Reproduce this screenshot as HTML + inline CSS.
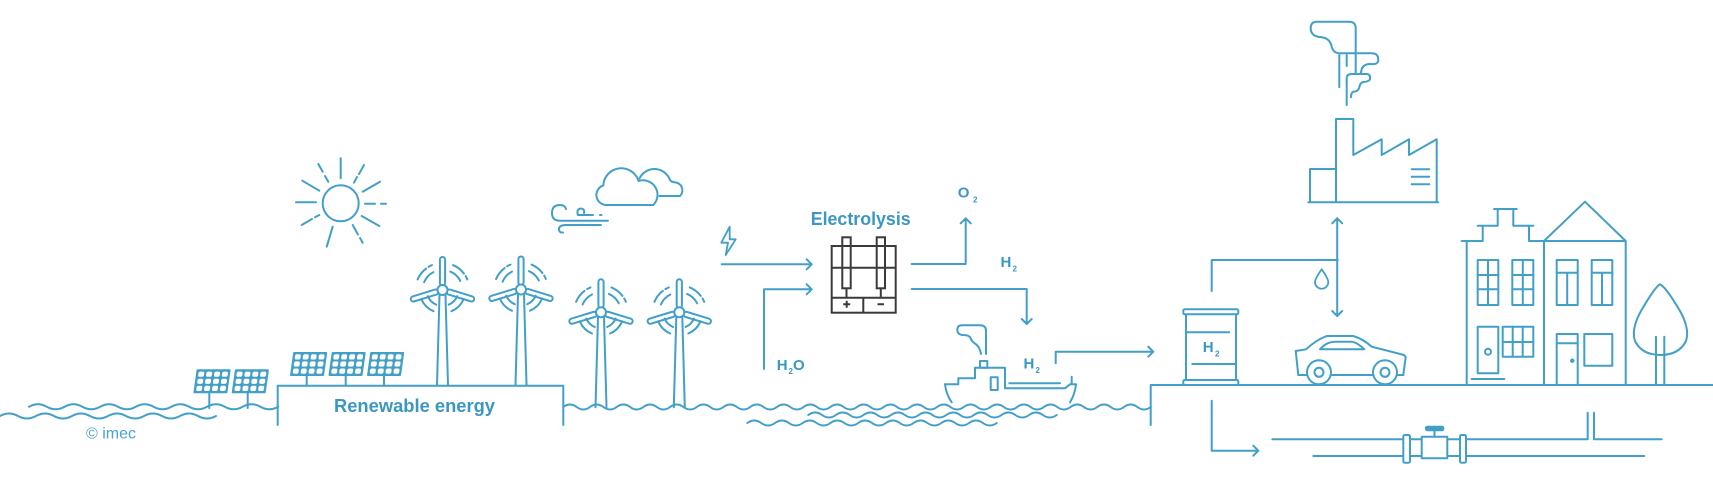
<!DOCTYPE html>
<html><head><meta charset="utf-8"><style>
html,body{margin:0;padding:0;background:#fff;}
svg{display:block;}
</style></head><body>
<svg width="1713" height="493" viewBox="0 0 1713 493" xmlns="http://www.w3.org/2000/svg">
<defs>
<g id="turb" fill="none" stroke="#429fc8" stroke-width="2" stroke-linecap="round">
  <path d="M-3,5 L-5.5,95 M3,5 L5.5,95" />
  <rect x="-2.6" y="-33" width="5.2" height="28.5" rx="2.6" fill="#fff"/>
  <rect x="-2.6" y="-33" width="5.2" height="28.5" rx="2.6" fill="#fff" transform="rotate(-107)"/>
  <rect x="-2.6" y="-33" width="5.2" height="28.5" rx="2.6" fill="#fff" transform="rotate(107)"/>
  <circle cx="0" cy="0" r="5" fill="#fff"/>
  <path d="M-18.4,-7.8 A20,20 0 0 1 -7.8,-18.4 M-24.9,-10.5 A27,27 0 0 1 -10.5,-24.9" stroke-dasharray="14 3"/>
  <path d="M7.8,-18.4 A20,20 0 0 1 18.4,-7.8 M10.5,-24.9 A27,27 0 0 1 24.9,-10.5" stroke-dasharray="14 3"/>
  <path d="M-6.2,14.7 A16,16 0 0 1 -14.7,6.2 M-9,21.2 A23,23 0 0 1 -21.2,9"/>
  <path d="M14.7,6.2 A16,16 0 0 1 6.2,14.7 M21.2,9 A23,23 0 0 1 9,21.2"/>
</g>
<g id="panel">
  <g transform="skewX(-8)">
    <rect x="0" y="0" width="34" height="24" rx="1" fill="#429fc8"/>
    <g fill="#fff">
      <rect x="2.3" y="2.3" width="5.8" height="5.2" rx="1.8"/><rect x="10.2" y="2.3" width="5.8" height="5.2" rx="1.8"/><rect x="18.1" y="2.3" width="5.8" height="5.2" rx="1.8"/><rect x="26" y="2.3" width="5.8" height="5.2" rx="1.8"/>
      <rect x="2.3" y="9.4" width="5.8" height="5.2" rx="1.8"/><rect x="10.2" y="9.4" width="5.8" height="5.2" rx="1.8"/><rect x="18.1" y="9.4" width="5.8" height="5.2" rx="1.8"/><rect x="26" y="9.4" width="5.8" height="5.2" rx="1.8"/>
      <rect x="2.3" y="16.5" width="5.8" height="5.2" rx="1.8"/><rect x="10.2" y="16.5" width="5.8" height="5.2" rx="1.8"/><rect x="18.1" y="16.5" width="5.8" height="5.2" rx="1.8"/><rect x="26" y="16.5" width="5.8" height="5.2" rx="1.8"/>
    </g>
  </g>
</g>
</defs>

<g fill="none" stroke="#429fc8" stroke-width="2" stroke-linecap="round" stroke-linejoin="round">
  <!-- Sun -->
  <circle cx="340.7" cy="203.3" r="18"/>
  <path d="M340.7,158.3 V178.3 M296,202.3 H316 M365,203.7 H375 M381,203.7 H386 M302.3,180.7 L319.3,190.7 M318.3,164 L322.7,171.7 M325,176 L328.3,181.7 M364,165 L359,174 M357,177 L354,182.7 M362.7,191.7 L380,181.7 M301.7,225 L312,219 M315,217.3 L319.3,215 M332.7,226.7 L326.7,246.7 M352.7,225 L358,234.5 M360,238 L362.7,242.7 M361.7,216 L379.3,226"/>

  <!-- Left waves -->
  <path d="M29,406.7 q8.9,-5 17.8,0 t17.8,0 t17.8,0 t17.8,0 t17.8,0 t17.8,0 t17.8,0 t17.8,0 t17.8,0 t17.8,0 t17.8,0 t17.8,0 t17.8,0 t17.8,0"/>
  <path d="M0,416 q9,-5 18,0 t18,0 t18,0 t18,0 t18,0 t18,0 t18,0 t18,0 t18,0 t18,0 t18,0 t18,0"/>

  <!-- Platform 1 -->
  <path d="M277.7,425 V385.7 H563.3 V425"/>
  <!-- panel poles -->
  <path d="M209.3,393 V408 M247.7,393 V408 M306.7,376 V385.7 M345.7,376 V385.7 M384,376 V385.7"/>

  <!-- Sea waves -->
  <path d="M563.3,407 q6.675,-5 13.35,0 t13.35,0 t13.35,0 t13.35,0 t13.35,0 t13.35,0 t13.35,0 t13.35,0 t13.35,0 t13.35,0 t13.35,0 t13.35,0 t13.35,0 t13.35,0 t13.35,0 t13.35,0 t13.35,0 t13.35,0 t13.35,0 t13.35,0 t13.35,0 t13.35,0 t13.35,0 t13.35,0 t13.35,0 t13.35,0 t13.35,0 t13.35,0 t13.35,0 t13.35,0 t13.35,0 t13.35,0 t13.35,0 t13.35,0 t13.35,0 t13.35,0 t13.35,0 t13.35,0 t13.35,0 t13.35,0 t13.35,0 t13.35,0 t13.35,0 t13.35,0"/>
  <path d="M808.3,415 q6.9,-5 13.8,0 t13.8,0 t13.8,0 t13.8,0 t13.8,0 t13.8,0 t13.8,0 t13.8,0 t13.8,0 t13.8,0 t13.8,0 t13.8,0 t13.8,0 t13.8,0 t13.8,0 t13.8,0 t13.8,0 t13.8,0"/>
  <path d="M747.3,423 q6.93,-5 13.86,0 t13.86,0 t13.86,0 t13.86,0 t13.86,0 t13.86,0 t13.86,0 t13.86,0 t13.86,0 t13.86,0 t13.86,0 t13.86,0 t13.86,0 t13.86,0 t13.86,0 t13.86,0 t13.86,0 t13.86,0"/>

  <!-- Cloud -->
  <path d="M606.7,205 A10,10 0 0 1 603.3,185.5 A18,18 0 0 1 638.5,181 A14.5,14.5 0 0 1 653.3,205 Z" fill="#fff"/>
  <path d="M639.5,178.5 A16.5,16.5 0 0 1 670,180 Q671,182 676,182.5 A8,8 0 0 1 680,196 H659.5"/>

  <!-- Wind swirl -->
  <path d="M566,209 Q565,205 560,205 Q552,205 552,213 Q552,220.7 560,220.7 H608"/>
  <path d="M578,215 Q576,209 581,208.5 Q585,209 584,213 M578,215 H593 M600,215 H601.5"/>
  <path d="M601,225 H566 Q559,225 559,229 Q559,233 563,232.5"/>

  <!-- Lightning -->
  <path d="M729.7,226.7 L721.3,242.7 H728 L725.7,255 L735.7,239.3 H729.7 Z" stroke-width="1.8"/>

  <!-- Arrows into electrolyzer -->
  <path d="M721.7,264.3 H811.7 M806.7,259.3 L811.7,264.3 L806.7,269.3"/>
  <path d="M764,369 V289.3 H811.7 M806.7,284.3 L811.7,289.3 L806.7,294.3"/>

  <!-- Out arrows -->
  <path d="M911.7,264 H965.7 V218.3 M960.7,223.3 L965.7,218.3 L970.7,223.3"/>
  <path d="M911.7,289 H1026.7 V324 M1021.7,319 L1026.7,324 L1031.7,319"/>

  <!-- Ship -->
  <path d="M945,384.3 Q946,394 951.7,402.3 M1076,384.3 Q1075,394 1070,402.3"/>
  <path d="M945,384.3 H958.3 V378.3 H975 V367.7 H1005 V388.3 H1065 L1070,384.3 H1076"/>
  <rect x="980" y="361" width="7.3" height="6.7"/>
  <rect x="990.7" y="377.3" width="7" height="12.7"/>
  <path d="M1009.3,383.3 H1060 M1071.7,376.7 V384.3"/>
  <path d="M981,354 Q980,346.7 975,343.5 Q971.7,341.7 970,337 Q968.3,335 962,335 Q957.3,334 957.3,330 Q957.3,325.3 962,325.3 H980 Q986,325.3 986,331 V354"/>

  <!-- Ship to tank arrow -->
  <path d="M1055.7,363.3 V351.7 H1153.3 M1148.3,346.7 L1153.3,351.7 L1148.3,356.7"/>

  <!-- Right platform / ground -->
  <path d="M1150.7,425 V385 H1713"/>

  <!-- Tank -->
  <rect x="1183.3" y="309.3" width="55" height="5" rx="1.5"/>
  <rect x="1183.3" y="380" width="55" height="5" rx="1.5"/>
  <path d="M1186,314.3 V380 M1236,314.3 V380 M1187.3,332.3 H1229.3 M1192.3,364 H1235"/>

  <!-- Tank line to factory/car -->
  <path d="M1211.7,291 V260 H1337.7"/>
  <path d="M1337.2,218.3 V316 M1332.2,223.3 L1337.2,218.3 L1342.2,223.3 M1332.2,311 L1337.2,316 L1342.2,311"/>
  <path d="M1321.7,269.3 Q1315,279 1315,282 A6.65,6.65 0 0 0 1328.3,282 Q1328.3,279 1321.7,269.3 Z" stroke-width="1.8"/>

  <!-- Underground arrow and pipes -->
  <path d="M1211.7,400.7 V450.7 H1258.3 M1253.3,445.7 L1258.3,450.7 L1253.3,455.7"/>
  <path d="M1272.3,439.3 H1587.7 V412.7 M1594,412.7 V439.3 H1661.7"/>
  <path d="M1313.3,456 H1644.3"/>
  <rect x="1403.3" y="435" width="6.7" height="27.7" rx="1.5" fill="#fff"/>
  <rect x="1460" y="435" width="6" height="27.7" rx="1.5" fill="#fff"/>
  <rect x="1421.7" y="436.7" width="25.6" height="21.6" fill="#fff"/>
  <path d="M1434.5,430.7 V436.7"/>
  <rect x="1426" y="426.7" width="17.3" height="3.5" rx="1.2" fill="#429fc8"/>

  <!-- Factory -->
  <path d="M1308.3,202.3 H1438.3 M1310,202.3 V169 H1336 M1336,202.3 V119 H1353.3 V155 L1381.7,139.3 V155 L1409,139.3 V155 L1436.7,139.3 V202.3"/>
  <path d="M1411.7,169.3 H1429.3 M1411.7,176.7 H1429.3 M1411.7,184.3 H1429.3"/>
  <path d="M1355.7,73.3 V28.3 Q1355.7,21.7 1349,21.7 H1316.7 Q1310.7,21.7 1310.7,28.3 Q1310.7,36.7 1321.7,37.3 Q1330,38.3 1331.7,46.7 Q1333.3,53.3 1340,53.3 H1371.7 Q1378.3,53.3 1378.3,60 Q1378.3,65 1370,64 Q1361.7,64 1361,72.7"/>
  <path d="M1339.3,55 V87.3 M1346.7,55 V66"/>
  <path d="M1346.7,105 V78.3 Q1346.7,74 1351.7,74 H1366.7 Q1370.7,74 1370,79.3 Q1368.7,81.7 1363.3,82 Q1360,82.7 1359.3,87.3 Q1358.3,91.7 1353.3,91.7 Q1351,92.7 1351,97.3"/>

  <!-- Car -->
  <path d="M1298.3,375 L1295.7,351 L1306,349.3 Q1316,340 1326.7,336 H1353.3 Q1363,339 1371.7,346.7 L1404,355 L1405.7,357 L1403.3,375" />
  <path d="M1298.3,375 H1403.3"/>
  <path d="M1320,349.3 Q1326,342 1335,341.7 H1352 Q1358,343 1364.3,349.3 Z"/>
  <circle cx="1319" cy="372.3" r="12" fill="#fff"/>
  <circle cx="1319" cy="372.3" r="4.5"/>
  <circle cx="1385" cy="372.3" r="12" fill="#fff"/>
  <circle cx="1385" cy="372.3" r="4.5"/>

  <!-- Houses -->
  <path d="M1466.7,385 V241 M1461.7,241 H1482.7 V225.7 M1477.7,225.7 H1497.7 V209 M1494,209 H1516.7 M1513.3,209 V225.7 H1533.3 M1529,225.7 V241 H1544.3"/>
  <path d="M1544,385 V241 L1585,201.7 L1625.7,241 H1544 M1625.7,241 V385"/>
  <rect x="1477.7" y="260" width="20.6" height="45"/>
  <path d="M1488,260 V305 M1477.7,275 H1498.3 M1477.7,289.3 H1498.3"/>
  <rect x="1512.3" y="260" width="21" height="45"/>
  <path d="M1522.8,260 V305 M1512.3,275 H1533.3 M1512.3,289.3 H1533.3"/>
  <rect x="1477.7" y="326.7" width="20.6" height="46.6"/>
  <circle cx="1488" cy="351.7" r="3"/>
  <path d="M1471.7,379 H1504.3"/>
  <rect x="1502.7" y="326.7" width="30.6" height="30"/>
  <path d="M1512.7,326.7 V356.7 M1522.7,326.7 V356.7 M1502.7,342 H1533.3"/>
  <rect x="1556.7" y="260" width="21" height="45"/>
  <path d="M1556.7,272.7 H1577.7 M1567.2,272.7 V305"/>
  <rect x="1591.7" y="260" width="20.6" height="45"/>
  <path d="M1591.7,272.7 H1612.3 M1602,272.7 V305"/>
  <path d="M1556.7,385 V334 H1577.7 V385 M1556.7,343.3 H1577.7"/>
  <circle cx="1572.3" cy="360.7" r="1.2" fill="#429fc8"/>
  <rect x="1584.3" y="334" width="28" height="31.7"/>

  <!-- Tree -->
  <path d="M1660,284.3 Q1655,287 1641,311 Q1631,329 1635,341 Q1642,355 1660.5,355 Q1679,355 1686,341 Q1690,329 1680,311 Q1666,287 1660,284.3 Z"/>
  <path d="M1656,336.7 V385 M1664.3,336.7 V385"/>
</g>

<!-- Solar panels -->
<use href="#panel" transform="translate(196.7,369.3)"/>
<use href="#panel" transform="translate(235,369.3)"/>
<use href="#panel" transform="translate(293.3,352)"/>
<use href="#panel" transform="translate(331.8,352)"/>
<use href="#panel" transform="translate(370.3,352)"/>

<!-- Turbines -->
<use href="#turb" transform="translate(442.5,290)"/>
<use href="#turb" transform="translate(521,289.5)"/>
<use href="#turb" transform="translate(601,312.3)"/>
<use href="#turb" transform="translate(679.3,312.3)"/>

<!-- Electrolyzer -->
<g fill="none" stroke="#3a3a3a" stroke-width="2">
  <rect x="831.7" y="246" width="64" height="66.7"/>
  <path d="M831.7,267.7 H895.7 M831.7,297.7 H895.7 M863.3,297.7 V312.7"/>
  <rect x="842.3" y="237.3" width="8.4" height="51"/>
  <rect x="876.7" y="237.3" width="8.3" height="51"/>
  <path d="M846.5,288.3 V297.7 M880.8,288.3 V297.7"/>
  <path d="M843.2,304.3 H850.2 M846.7,300.8 V307.8 M877.5,304.3 H884"/>
</g>

<!-- Text -->
<g font-family="'Liberation Sans', Arial, sans-serif" font-weight="bold" fill="#3b97c1">
  <text x="334" y="412" font-size="18" textLength="161" lengthAdjust="spacingAndGlyphs">Renewable energy</text>
  <text x="810.7" y="225" font-size="18" textLength="100" lengthAdjust="spacingAndGlyphs">Electrolysis</text>
  <text x="957.8" y="197.5" font-size="15">O</text>
  <text x="973" y="202.5" font-size="8">2</text>
  <text x="776.8" y="370" font-size="15">H</text>
  <text x="788.5" y="374" font-size="8">2</text>
  <text x="793" y="370" font-size="15">O</text>
  <text x="1000.5" y="266.8" font-size="15">H</text>
  <text x="1012.5" y="271.5" font-size="8">2</text>
  <text x="1023.5" y="368.5" font-size="15">H</text>
  <text x="1035.5" y="373" font-size="8">2</text>
  <text x="1202.8" y="351.8" font-size="15">H</text>
  <text x="1215" y="356.5" font-size="8">2</text>
</g>
<text x="86" y="438.5" font-family="'Liberation Sans', Arial, sans-serif" font-size="16" fill="#4aa3cc">© imec</text>
</svg>
</body></html>
